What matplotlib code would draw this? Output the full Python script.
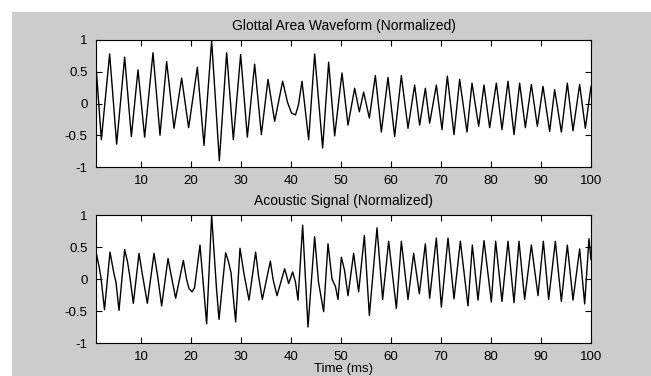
import numpy as np
import matplotlib
matplotlib.use("Agg")
import matplotlib.pyplot as plt
from matplotlib.patches import Rectangle

# peaks / troughs / shoulders (time in ms, normalized value)
glottal_t = [1.0, 2.07, 3.73, 5.13, 6.73, 8.07, 9.4, 10.73, 12.4, 13.8, 15.13, 16.6,
             18.13, 19.53, 21.27, 22.6, 24.13, 25.67, 27.13, 28.47, 29.93, 31.27, 32.73,
             34.07, 35.4, 36.73, 38.33, 39.3, 40.1, 40.9, 41.5, 42.2, 43.53, 44.73, 46.33,
             47.53, 48.73, 50.2, 51.4, 52.73, 53.67, 54.53, 55.67, 56.87, 58.07, 59.4,
             60.73, 62.07, 63.4, 64.73, 65.73, 66.87, 67.73, 69.07, 70.2, 71.27, 72.6,
             73.73, 75.2, 76.2, 77.53, 78.6, 79.73, 81.07, 82.2, 83.4, 84.6, 85.73, 86.87,
             88.07, 89.27, 90.4, 91.73, 92.73, 94.07, 95.27, 96.4, 97.73, 98.87, 100.0]
glottal_v = [0.60, -0.57, 0.78, -0.64, 0.73, -0.52, 0.53, -0.53, 0.80, -0.50, 0.66, -0.39,
             0.40, -0.38, 0.57, -0.66, 0.99, -0.90, 0.80, -0.57, 0.77, -0.53, 0.62,
             -0.49, 0.38, -0.28, 0.35, 0.02, -0.15, -0.18, -0.02, 0.35, -0.57, 0.78, -0.70,
             0.65, -0.51, 0.48, -0.34, 0.24, -0.13, 0.18, -0.23, 0.44, -0.45, 0.41,
             -0.52, 0.44, -0.39, 0.29, -0.34, 0.24, -0.31, 0.29, -0.41, 0.43, -0.49,
             0.38, -0.45, 0.32, -0.36, 0.29, -0.38, 0.32, -0.41, 0.35, -0.49, 0.32, -0.38,
             0.30, -0.36, 0.27, -0.44, 0.22, -0.45, 0.32, -0.43, 0.30, -0.39, 0.27]

acoustic_t = [1.0, 1.6, 2.0, 2.7, 3.8, 4.6, 5.0, 5.6, 6.73, 7.3, 7.8, 8.47, 9.6, 10.3,
              11.27, 12.6, 13.3, 14.13, 15.4, 16.1, 16.93, 18.47, 19.1, 19.6, 20.2, 20.7,
              21.8, 23.13, 24.13, 25.1, 25.6, 26.93, 27.5, 28.0, 28.93, 29.8, 30.6, 31.6,
              32.93, 33.5, 34.27, 35.87, 36.4, 37.2, 38.73, 39.53, 40.33, 40.9, 41.4,
              42.33, 43.4, 44.73, 45.5, 46.53, 47.4, 48.2, 48.9, 49.4, 50.07, 50.7, 51.4,
              52.53, 53.53, 54.67, 55.67, 57.2, 58.33, 59.53, 61.07, 62.07, 63.4, 64.53,
              65.67, 66.87, 67.73, 69.07, 70.07, 71.4, 72.6, 73.87, 75.4, 76.27, 77.4,
              78.6, 80.07, 80.93, 82.2, 83.4, 84.6, 85.6, 86.73, 88.07, 89.4, 90.47,
              91.53, 92.87, 94.07, 95.27, 96.4, 97.73, 98.73, 99.6, 100.0]
acoustic_v = [0.42, 0.20, 0.02, -0.48, 0.42, 0.08, -0.05, -0.49, 0.46, 0.27, 0.02, -0.38,
              0.40, 0.06, -0.38, 0.40, 0.06, -0.42, 0.32, 0.03, -0.30, 0.29, 0.0, -0.15,
              -0.20, -0.14, 0.53, -0.70, 0.99, -0.15, -0.63, 0.41, 0.27, 0.10, -0.67, 0.48,
              0.08, -0.33, 0.42, 0.05, -0.32, 0.28, 0.0, -0.26, 0.16, -0.07, 0.11, -0.05,
              -0.33, 0.84, -0.75, 0.66, -0.05, -0.51, 0.55, 0.0, -0.12, -0.32, 0.34, 0.14,
              -0.26, 0.40, -0.20, 0.68, -0.57, 0.80, -0.32, 0.59, -0.46, 0.59, -0.32, 0.40,
              -0.23, 0.55, -0.30, 0.64, -0.44, 0.64, -0.31, 0.59, -0.42, 0.53, -0.33, 0.60,
              -0.36, 0.59, -0.35, 0.59, -0.37, 0.59, -0.32, 0.53, -0.26, 0.59, -0.32, 0.59,
              -0.35, 0.53, -0.33, 0.47, -0.39, 0.63, 0.30]

xticks = [10, 20, 30, 40, 50, 60, 70, 80, 90, 100]
yticks = [-1, -0.5, 0, 0.5, 1]
ylabels = ['-1', '-0.5', '0', '0.5', '1']

plt.rcParams['font.family'] = ['Liberation Sans', 'DejaVu Sans']

W, H = 651, 376
fig = plt.figure(figsize=(W / 100, H / 100), dpi=100, facecolor='white')
fig.patches.append(Rectangle((12 / W, 0), 1, 1 - 12 / H, transform=fig.transFigure,
                             facecolor='#cccccc', edgecolor='none', zorder=-10))

ax1 = fig.add_axes([96 / W, 1 - 167 / H, 495 / W, 127 / H])
ax2 = fig.add_axes([96 / W, 1 - 343 / H, 495 / W, 128 / H])

for ax, t, v, title in [(ax1, glottal_t, glottal_v, 'Glottal Area Waveform (Normalized)'),
                        (ax2, acoustic_t, acoustic_v, 'Acoustic Signal (Normalized)')]:
    ax.plot(t, v, color='black', lw=1.0)
    ax.set_xlim(1, 100)
    ax.set_ylim(-1, 1)
    ax.set_xticks(xticks)
    ax.set_yticks(yticks)
    ax.set_yticklabels(ylabels)
    ax.tick_params(direction='in', length=4, width=0.8, top=True, right=True,
                   labelsize=9.5, pad=6)
    for s in ax.spines.values():
        s.set_linewidth(0.8)
    ax.set_title(title, fontsize=10, pad=7)

ax2.set_xlabel('Time (ms)', fontsize=9.5, labelpad=0)

fig.savefig('out.png', dpi=100, facecolor=fig.get_facecolor())
